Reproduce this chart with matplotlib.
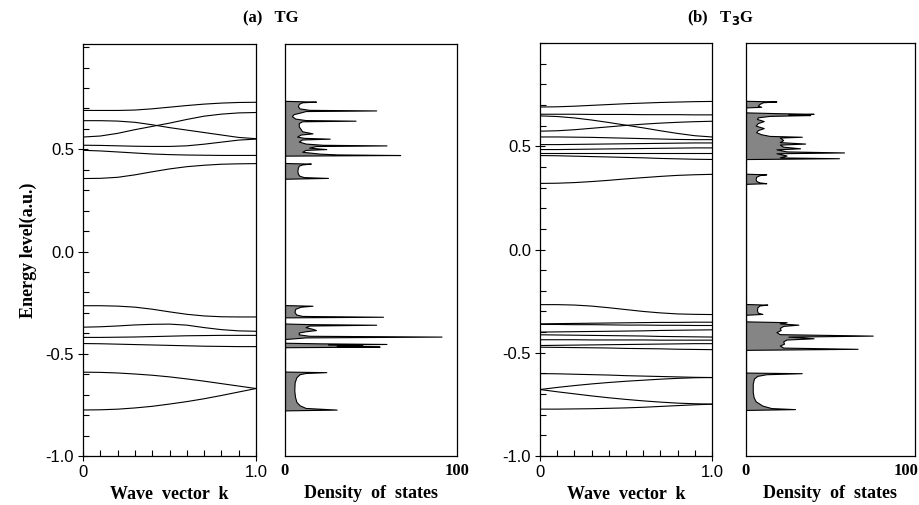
import numpy as np
import matplotlib
matplotlib.use("Agg")
import matplotlib.pyplot as plt
import matplotlib.transforms as mtransforms
from matplotlib.ticker import MultipleLocator, FixedLocator

# ---------------- data ----------------
k = [0.0, 0.1, 0.2, 0.3, 0.4, 0.5, 0.6, 0.7, 0.8, 0.9, 1.0]

# (a) TG : energy bands E(k)
bands_a = [
    [0.690, 0.690, 0.690, 0.692, 0.698, 0.706, 0.714, 0.721, 0.726, 0.729, 0.730],
    [0.640, 0.640, 0.638, 0.632, 0.620, 0.606, 0.594, 0.582, 0.570, 0.558, 0.552],
    [0.560, 0.565, 0.578, 0.596, 0.612, 0.628, 0.646, 0.662, 0.672, 0.678, 0.680],
    [0.520, 0.519, 0.517, 0.515, 0.514, 0.514, 0.517, 0.525, 0.535, 0.545, 0.550],
    [0.495, 0.492, 0.487, 0.482, 0.477, 0.474, 0.472, 0.471, 0.470, 0.470, 0.470],
    [0.357, 0.358, 0.363, 0.375, 0.390, 0.404, 0.415, 0.422, 0.427, 0.429, 0.430],
    [-0.265, -0.265, -0.267, -0.272, -0.282, -0.295, -0.307, -0.315, -0.319, -0.320, -0.320],
    [-0.370, -0.368, -0.364, -0.359, -0.356, -0.355, -0.360, -0.372, -0.382, -0.388, -0.390],
    [-0.420, -0.420, -0.419, -0.418, -0.416, -0.414, -0.412, -0.411, -0.410, -0.410, -0.410],
    [-0.450, -0.451, -0.453, -0.455, -0.457, -0.459, -0.461, -0.463, -0.464, -0.465, -0.465],
    [-0.590, -0.591, -0.594, -0.599, -0.605, -0.613, -0.623, -0.634, -0.646, -0.658, -0.670],
    [-0.775, -0.774, -0.771, -0.765, -0.757, -0.746, -0.734, -0.720, -0.704, -0.687, -0.670],
]

# (b) T3G : energy bands E(k)
bands_b = [
    [0.690, 0.691, 0.694, 0.698, 0.702, 0.706, 0.709, 0.712, 0.714, 0.716, 0.717],
    [0.655, 0.655, 0.655, 0.654, 0.654, 0.654, 0.653, 0.653, 0.653, 0.652, 0.652],
    [0.647, 0.644, 0.637, 0.627, 0.615, 0.602, 0.589, 0.575, 0.562, 0.551, 0.545],
    [0.573, 0.575, 0.580, 0.587, 0.594, 0.601, 0.607, 0.612, 0.616, 0.619, 0.621],
    [0.545, 0.545, 0.544, 0.543, 0.541, 0.539, 0.537, 0.535, 0.533, 0.532, 0.532],
    [0.508, 0.508, 0.509, 0.510, 0.511, 0.512, 0.513, 0.514, 0.515, 0.516, 0.516],
    [0.484, 0.484, 0.485, 0.486, 0.487, 0.488, 0.489, 0.490, 0.491, 0.492, 0.492],
    [0.468, 0.468, 0.468, 0.468, 0.468, 0.468, 0.468, 0.468, 0.468, 0.468, 0.468],
    [0.455, 0.454, 0.452, 0.450, 0.448, 0.446, 0.444, 0.441, 0.439, 0.437, 0.436],
    [0.320, 0.321, 0.324, 0.329, 0.335, 0.342, 0.348, 0.354, 0.359, 0.362, 0.364],
    [-0.267, -0.267, -0.269, -0.274, -0.282, -0.291, -0.300, -0.307, -0.312, -0.314, -0.315],
    [-0.360, -0.359, -0.358, -0.357, -0.356, -0.355, -0.354, -0.353, -0.353, -0.352, -0.352],
    [-0.363, -0.363, -0.364, -0.364, -0.365, -0.366, -0.366, -0.367, -0.367, -0.368, -0.368],
    [-0.400, -0.399, -0.398, -0.397, -0.396, -0.395, -0.394, -0.392, -0.391, -0.390, -0.389],
    [-0.413, -0.414, -0.415, -0.416, -0.417, -0.418, -0.419, -0.421, -0.422, -0.423, -0.424],
    [-0.437, -0.437, -0.437, -0.438, -0.438, -0.438, -0.438, -0.439, -0.439, -0.439, -0.439],
    [-0.465, -0.464, -0.463, -0.462, -0.461, -0.460, -0.459, -0.458, -0.457, -0.456, -0.456],
    [-0.473, -0.474, -0.475, -0.476, -0.477, -0.479, -0.480, -0.481, -0.483, -0.484, -0.485],
    [-0.601, -0.602, -0.604, -0.606, -0.608, -0.611, -0.613, -0.615, -0.617, -0.619, -0.620],
    [-0.678, -0.668, -0.659, -0.651, -0.644, -0.638, -0.633, -0.628, -0.624, -0.621, -0.620],
    [-0.678, -0.689, -0.699, -0.709, -0.718, -0.726, -0.733, -0.739, -0.744, -0.747, -0.749],
    [-0.773, -0.773, -0.772, -0.771, -0.769, -0.767, -0.764, -0.760, -0.756, -0.752, -0.749],
]

# density of states profiles (energy, dos), energy going down
dos_a_E = [0.737, 0.733, 0.730, 0.722, 0.710, 0.700, 0.693, 0.690, 0.687, 0.680, 0.672, 0.662,
           0.650, 0.643, 0.640, 0.637, 0.628, 0.612, 0.600, 0.588, 0.578, 0.572, 0.562, 0.556,
           0.552, 0.548, 0.538, 0.528, 0.522, 0.519, 0.516, 0.508, 0.501, 0.497, 0.488, 0.479,
           0.475, 0.472, 0.469,
           0.433, 0.430, 0.426, 0.420, 0.410, 0.395, 0.380, 0.370, 0.364, 0.360, 0.356,
           -0.262, -0.265, -0.270, -0.280, -0.295, -0.308, -0.315, -0.319, -0.322,
           -0.352, -0.355, -0.358, -0.362, -0.370, -0.378, -0.384, -0.390, -0.396, -0.405,
           -0.412, -0.416, -0.420, -0.428,
           -0.446, -0.449, -0.452, -0.455, -0.459, -0.462, -0.465, -0.468,
           -0.587, -0.590, -0.594, -0.600, -0.615, -0.640, -0.680, -0.710, -0.735, -0.752,
           -0.765, -0.773, -0.777]
dos_a_D = [0, 18, 10, 8, 7.5, 8.5, 14, 53, 12, 9, 5, 4,
           6, 12, 41, 10, 8, 8, 9, 10, 16, 9, 7, 11,
           26, 10, 8, 12, 22, 59, 18, 14, 24, 12, 10, 20,
           30, 67, 0,
           0, 15, 10, 8, 7.5, 7.2, 7.5, 8.5, 11, 25, 0,
           0, 16, 9, 6, 5.5, 6.5, 10, 57, 0,
           0, 14, 53, 14, 12, 16, 18, 12, 8, 8,
           14, 91, 12, 0,
           0, 20, 59, 25, 45, 30, 55, 0,
           0, 24, 12, 8.5, 6.6, 5.6, 5.4, 5.8, 6.6, 8.5,
           12, 30, 0]

dos_b_E = [0.720, 0.717, 0.713, 0.705, 0.697, 0.691, 0.688,
           0.664, 0.660, 0.657, 0.654, 0.651, 0.647, 0.640, 0.632, 0.622, 0.612, 0.600, 0.588,
           0.578, 0.568, 0.558, 0.550, 0.546, 0.542, 0.530, 0.520, 0.513, 0.508, 0.498, 0.490,
           0.485, 0.475, 0.470, 0.466, 0.455, 0.446, 0.442, 0.438,
           0.367, 0.364, 0.360, 0.352, 0.342, 0.332, 0.325, 0.321, 0.318,
           -0.264, -0.267, -0.271, -0.280, -0.295, -0.306, -0.312, -0.316,
           -0.348, -0.352, -0.358, -0.364, -0.370, -0.380, -0.390, -0.400, -0.410, -0.417,
           -0.422, -0.430, -0.436, -0.445, -0.456, -0.465, -0.475, -0.481, -0.486,
           -0.596, -0.599, -0.604, -0.612, -0.625, -0.650, -0.690, -0.715, -0.735, -0.756,
           -0.768, -0.773, -0.777]
dos_b_D = [0, 18, 10, 8, 7, 9, 0,
           0, 20, 40, 25, 38, 14, 7, 6.5, 10.5, 7, 5.7, 10.5,
           7, 6, 9, 14, 33, 20, 22, 20, 35, 20, 22, 32,
           18, 24, 58, 18, 24, 20, 55, 0,
           0, 12, 8, 6, 5.7, 6, 8, 12, 0,
           0, 12.6, 8, 6.7, 6.5, 7, 9.7, 0,
           0, 24, 20, 31, 22, 20, 20.5, 18, 20, 75,
           25, 40, 24, 22, 22.5, 20, 22, 66, 0,
           0, 33, 12, 6.7, 4.7, 4, 4, 4.5, 5.7, 9.7,
           15, 29, 0]

ytick_vals = [-1.0, -0.5, 0.0, 0.5]

# ---------------- figure ----------------
W, H = 920, 505
fig = plt.figure(figsize=(W / 100, H / 100), dpi=100)

serif = "Liberation Serif"
sans = "Liberation Sans"


def px_axes(x0, x1, y0, y1):
    return fig.add_axes([x0 / W, 1 - y1 / H, (x1 - x0) / W, (y1 - y0) / H])


def band_panel(ax, bands, ylim):
    for b in bands:
        ax.plot(k, b, color="black", lw=0.8)
    ax.set_xlim(0, 1.0)
    ax.set_ylim(*ylim)
    ax.yaxis.set_major_locator(FixedLocator(ytick_vals))
    ax.yaxis.set_minor_locator(MultipleLocator(0.1))
    ax.set_yticklabels(["%.1f" % v for v in ytick_vals], fontfamily=sans, fontsize=12)
    ax.xaxis.set_major_locator(FixedLocator([0, 1.0]))
    ax.xaxis.set_minor_locator(MultipleLocator(0.1))
    ax.set_xticklabels(["0", "1.0"], fontfamily=sans, fontsize=12)
    ax.tick_params(which="major", direction="inout", length=7, width=0.8, pad=3,
                   top=False, right=False)
    ax.tick_params(which="minor", direction="in", length=4, width=0.8,
                   top=False, right=False)
    ax.set_xlabel("Wave  vector  k", fontfamily=serif, fontweight="bold",
                  fontsize=13, labelpad=4)


def dos_panel(ax, E, D, ylim):
    ax.fill_betweenx(E, 0, D, facecolor="#858585", edgecolor="black", lw=0.8)
    ax.set_xlim(0, 100)
    ax.set_ylim(*ylim)
    ax.set_yticks([])
    ax.set_xticks([0, 100])
    ax.set_xticklabels(["0", "100"], fontfamily=serif, fontweight="bold", fontsize=12)
    ax.tick_params(axis="x", length=0, pad=5)
    ax.set_xlabel("Density  of  states", fontfamily=serif, fontweight="bold",
                  fontsize=13, labelpad=4)


ax1 = px_axes(83, 256, 44, 456)
ax2 = px_axes(285, 457, 44, 456)
ax3 = px_axes(540, 712, 43, 456)
ax4 = px_axes(746, 915, 43, 456)

band_panel(ax1, bands_a, (-1.0, 1.015))
dos_panel(ax2, dos_a_E, dos_a_D, (-1.0, 1.015))
band_panel(ax3, bands_b, (-1.0, 1.0))
dos_panel(ax4, dos_b_E, dos_b_D, (-1.0, 1.0))

# the right-hand "100" sits flush with the page edge
lab = ax4.get_xticklabels()[1]
lab.set_horizontalalignment("right")
lab.set_transform(lab.get_transform() +
                  mtransforms.ScaledTranslation(4 / 100, 0, fig.dpi_scale_trans))

for ax in (ax1, ax2, ax3, ax4):
    for s in ax.spines.values():
        s.set_linewidth(0.9)

ax1.set_ylabel("Energy level(a.u.)", fontfamily=serif, fontweight="bold",
               fontsize=13, labelpad=6)

fig.text(271 / W, 1 - 18 / H, "(a)   TG", ha="center", va="center",
         fontfamily=serif, fontweight="bold", fontsize=12)
fig.text(721 / W, 1 - 18 / H, "(b)   T$_\\mathbf{3}$G", ha="center", va="center",
         fontfamily=serif, fontweight="bold", fontsize=12)

fig.savefig("out.png", dpi=100)
